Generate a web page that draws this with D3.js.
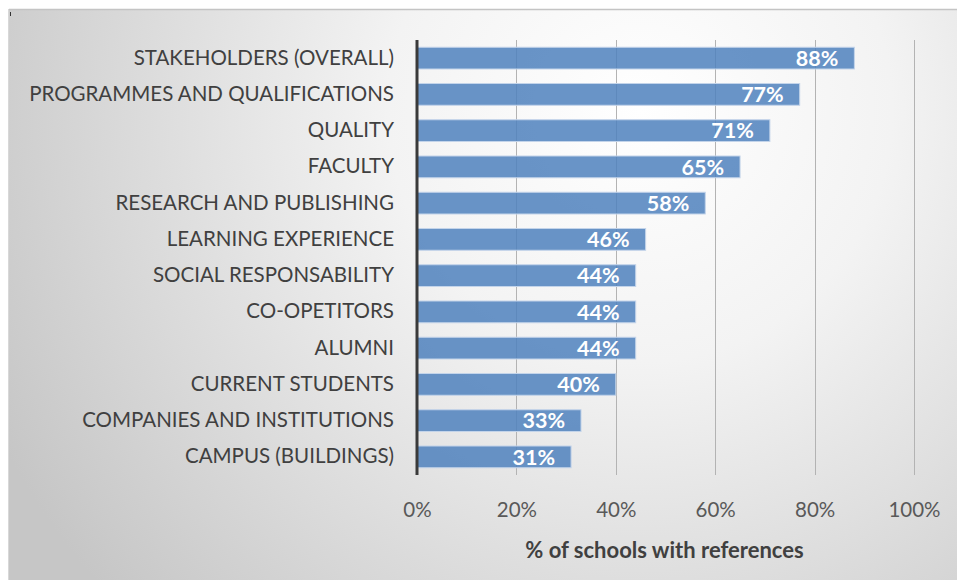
<!DOCTYPE html>
<html>
<head>
<meta charset="utf-8">
<script src="https://cdn.jsdelivr.net/npm/d3@7"></script>
<style>
  html, body { margin: 0; padding: 0; background: #ffffff; }
  svg { display: block; }
</style>
</head>
<body>
<svg id="chart" width="957" height="580"></svg>
<script>
// Share of schools referring to each topic
const categories = [
  "STAKEHOLDERS (OVERALL)",
  "PROGRAMMES AND QUALIFICATIONS",
  "QUALITY",
  "FACULTY",
  "RESEARCH AND PUBLISHING",
  "LEARNING EXPERIENCE",
  "SOCIAL RESPONSABILITY",
  "CO-OPETITORS",
  "ALUMNI",
  "CURRENT STUDENTS",
  "COMPANIES AND INSTITUTIONS",
  "CAMPUS (BUILDINGS)"
];
const values = [0.88, 0.77, 0.71, 0.65, 0.58, 0.46, 0.44, 0.44, 0.44, 0.40, 0.33, 0.31];
const tickValues = [0, 0.2, 0.4, 0.6, 0.8, 1.0];
const axisTitle = "% of schools with references";

const svg = d3.select("#chart");
const W = 957, H = 580;
const font = "Lato, 'Open Sans', sans-serif";

// Background panel with soft radial shading
const defs = svg.append("defs");
const grad = defs.append("radialGradient")
  .attr("id", "bg")
  .attr("gradientUnits", "userSpaceOnUse")
  .attr("cx", 640).attr("cy", 110).attr("r", 720);
grad.append("stop").attr("offset", "0%").attr("stop-color", "#ffffff");
grad.append("stop").attr("offset", "35%").attr("stop-color", "#f3f3f3");
grad.append("stop").attr("offset", "100%").attr("stop-color", "#c6c6c6");

svg.append("rect")
  .attr("x", 9).attr("y", 9).attr("width", W - 9).attr("height", H - 9)
  .attr("fill", "url(#bg)");
svg.append("line")
  .attr("x1", 9).attr("x2", W).attr("y1", 9.5).attr("y2", 9.5)
  .attr("stroke", "#c4c4c4").attr("stroke-width", 1.5);
svg.append("line")
  .attr("x1", 8.5).attr("x2", 8.5).attr("y1", 9).attr("y2", H)
  .attr("stroke", "#d8d8d8").attr("stroke-width", 1);
svg.append("line")
  .attr("x1", 10.5).attr("x2", 10.5).attr("y1", 12).attr("y2", 16)
  .attr("stroke", "#333").attr("stroke-width", 1);

const plot = { left: 417, right: 914, top: 40, bottom: 475 };

const x = d3.scaleLinear().domain([0, 1]).range([plot.left, plot.right]);
const y = d3.scaleBand().domain(categories)
  .range([plot.top, plot.bottom]).paddingInner(0.4).paddingOuter(0.2);

// Vertical gridlines
svg.append("g")
  .selectAll("line")
  .data(tickValues.slice(1))
  .join("line")
  .attr("x1", d => Math.round(x(d)) + 0.5)
  .attr("x2", d => Math.round(x(d)) + 0.5)
  .attr("y1", plot.top).attr("y2", plot.bottom)
  .attr("stroke", "#b3b3b3").attr("stroke-width", 1);

// Bars
svg.append("g")
  .selectAll("rect")
  .data(values)
  .join("rect")
  .attr("x", x(0))
  .attr("y", (d, i) => y(categories[i]))
  .attr("width", d => x(d) - x(0))
  .attr("height", y.bandwidth())
  .attr("fill", "rgb(79,129,189)")
  .attr("fill-opacity", 0.85)
  .attr("stroke", "#c3d4ea")
  .attr("stroke-width", 1);

// Value labels inside bar ends
svg.append("g")
  .selectAll("text")
  .data(values)
  .join("text")
  .attr("x", d => x(d) - 16)
  .attr("y", (d, i) => y(categories[i]) + y.bandwidth() / 2)
  .attr("dy", "0.36em")
  .attr("text-anchor", "end")
  .attr("font-family", font)
  .attr("font-weight", "bold")
  .attr("font-size", 21.5)
  .attr("fill", "#ffffff")
  .text(d => d3.format(".0%")(d));

// Category axis
const yAxis = d3.axisLeft(y).tickSize(0).tickPadding(23);
const gy = svg.append("g").attr("transform", `translate(${plot.left},0)`).call(yAxis);
gy.select(".domain").remove();
gy.selectAll("text")
  .attr("font-family", font)
  .attr("font-size", 20.5)
  .attr("fill", "#404040");
svg.append("line")
  .attr("x1", plot.left).attr("x2", plot.left)
  .attr("y1", plot.top).attr("y2", plot.bottom)
  .attr("stroke", "#3a3a3a").attr("stroke-width", 3);

// Value axis
const xAxis = d3.axisBottom(x).tickValues(tickValues).tickFormat(d3.format(".0%")).tickSize(0).tickPadding(0);
const gx = svg.append("g").attr("transform", `translate(0,${plot.bottom})`).call(xAxis);
gx.select(".domain").remove();
gx.selectAll("text")
  .attr("y", 42)
  .attr("dy", "0")
  .attr("font-family", font)
  .attr("font-size", 20.5)
  .attr("fill", "#595959");

svg.append("text")
  .attr("x", (plot.left + plot.right) / 2 - 1)
  .attr("y", 558)
  .attr("text-anchor", "middle")
  .attr("font-family", font)
  .attr("font-weight", "bold")
  .attr("font-size", 22)
  .attr("fill", "#404040")
  .text(axisTitle);
</script>
</body>
</html>
